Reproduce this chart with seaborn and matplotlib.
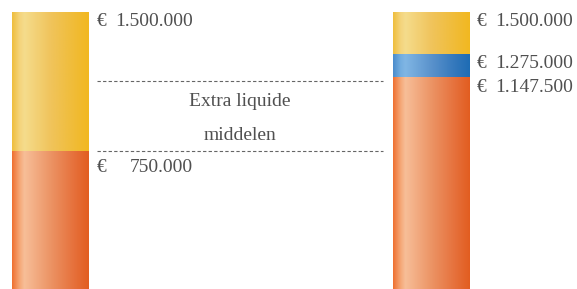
import numpy as np
import pandas as pd
import matplotlib
matplotlib.use("Agg")
import matplotlib.pyplot as plt
import seaborn as sns
from matplotlib.colors import LinearSegmentedColormap

# ---- data ----
categories = ["Huidig", "Nieuw"]
eigen_vermogen = [750000, 1147500]      # orange, bottom
extra_liquide = [0, 127500]             # blue, middle
overig = [750000, 225000]               # yellow, top
reference_levels = [1125000, 750000]
band_label = ["Extra liquide", "middelen"]

def fmt(v):
    return f"{v:,.0f}".replace(",", ".")

sns.set_theme(style="white")
plt.rcParams["font.family"] = ["Liberation Serif", "DejaVu Serif"]

fig = plt.figure(figsize=(5.77, 2.89), dpi=100)
ax = fig.add_axes([0, 0, 1, 1])

e = np.array(eigen_vermogen)
b = np.array(extra_liquide)
y = np.array(overig)
layers = [
    ("yellow", e + b + y),
    ("blue", e + b),
    ("orange", e),
]
grad = {
    "orange": [(0, "#EF7030"), (0.1, "#F5A878"), (0.16, "#F7BE98"), (0.5, "#EC9465"), (0.8, "#E6713C"), (1, "#E25D20")],
    "yellow": [(0, "#EFBE3C"), (0.1, "#F4D47C"), (0.16, "#F5DC8C"), (0.5, "#F0C45C"), (0.8, "#F0BC38"), (1, "#F2B820")],
    "blue":   [(0, "#4A8CCC"), (0.1, "#74AEE0"), (0.16, "#80B6E4"), (0.5, "#5A92CC"), (0.8, "#3478BC"), (1, "#1E6CB4")],
}

for i, (name, vals) in enumerate(layers):
    df = pd.DataFrame({"cat": categories, "val": vals})
    n_before = len(ax.patches)
    sns.barplot(data=df, x="cat", y="val", ax=ax, width=0.2, color="white",
                order=categories, zorder=2 + i, errorbar=None)
    new_patches = ax.patches[n_before:]
    cmap = LinearSegmentedColormap.from_list(name, grad[name])
    g = cmap(np.linspace(0, 1, 256))[None, :, :]
    for p in new_patches:
        bb = p.get_bbox()
        p.set_facecolor("none")
        p.set_edgecolor("none")
        if bb.height <= 0:
            continue
        im = ax.imshow(g, extent=[bb.x0, bb.x1, bb.y0, bb.y1], aspect="auto",
                       zorder=2 + i, interpolation="bilinear")
        im.set_clip_path(p)

top = max(e + b + y)
ax.set_ylim(0, top * 289 / 277)
ax.set_xlim(-50.5 / 380.5, 1 + (577 - 431) / 380.5)
ax.axis("off")

halfw = 0.1
txt_kw = dict(fontsize=14, color="#505050", textcoords="offset pixels", va="baseline")

def label(xi, value, dy):
    ax.annotate("€", xy=(xi + halfw, value), xytext=(8, dy), ha="left", **txt_kw)
    ax.annotate(fmt(value), xy=(xi + halfw, value), xytext=(104, dy), ha="right", **txt_kw)

# left bar labels
label(0, (e + y)[0], -14)
label(0, e[0], -21)
# right bar labels
label(1, (e + b + y)[1], -14)
label(1, (e + b)[1], -14)
label(1, e[1], -15)

# dashed reference lines
x0 = halfw + 8 / 380.5
x1 = 1 - halfw - 10 / 380.5
for lvl in reference_levels:
    ax.plot([x0, x1], [lvl, lvl], color="#666666", lw=0.8, ls=(0, (3, 2)), zorder=5)

mid_x = (x0 + x1) / 2
mid_y = sum(reference_levels) / 2
ax.annotate(band_label[0], xy=(mid_x, mid_y), xytext=(0, 10), ha="center", **txt_kw)
ax.annotate(band_label[1], xy=(mid_x, mid_y), xytext=(0, -24), ha="center", **txt_kw)

fig.savefig("out.png", dpi=100)
